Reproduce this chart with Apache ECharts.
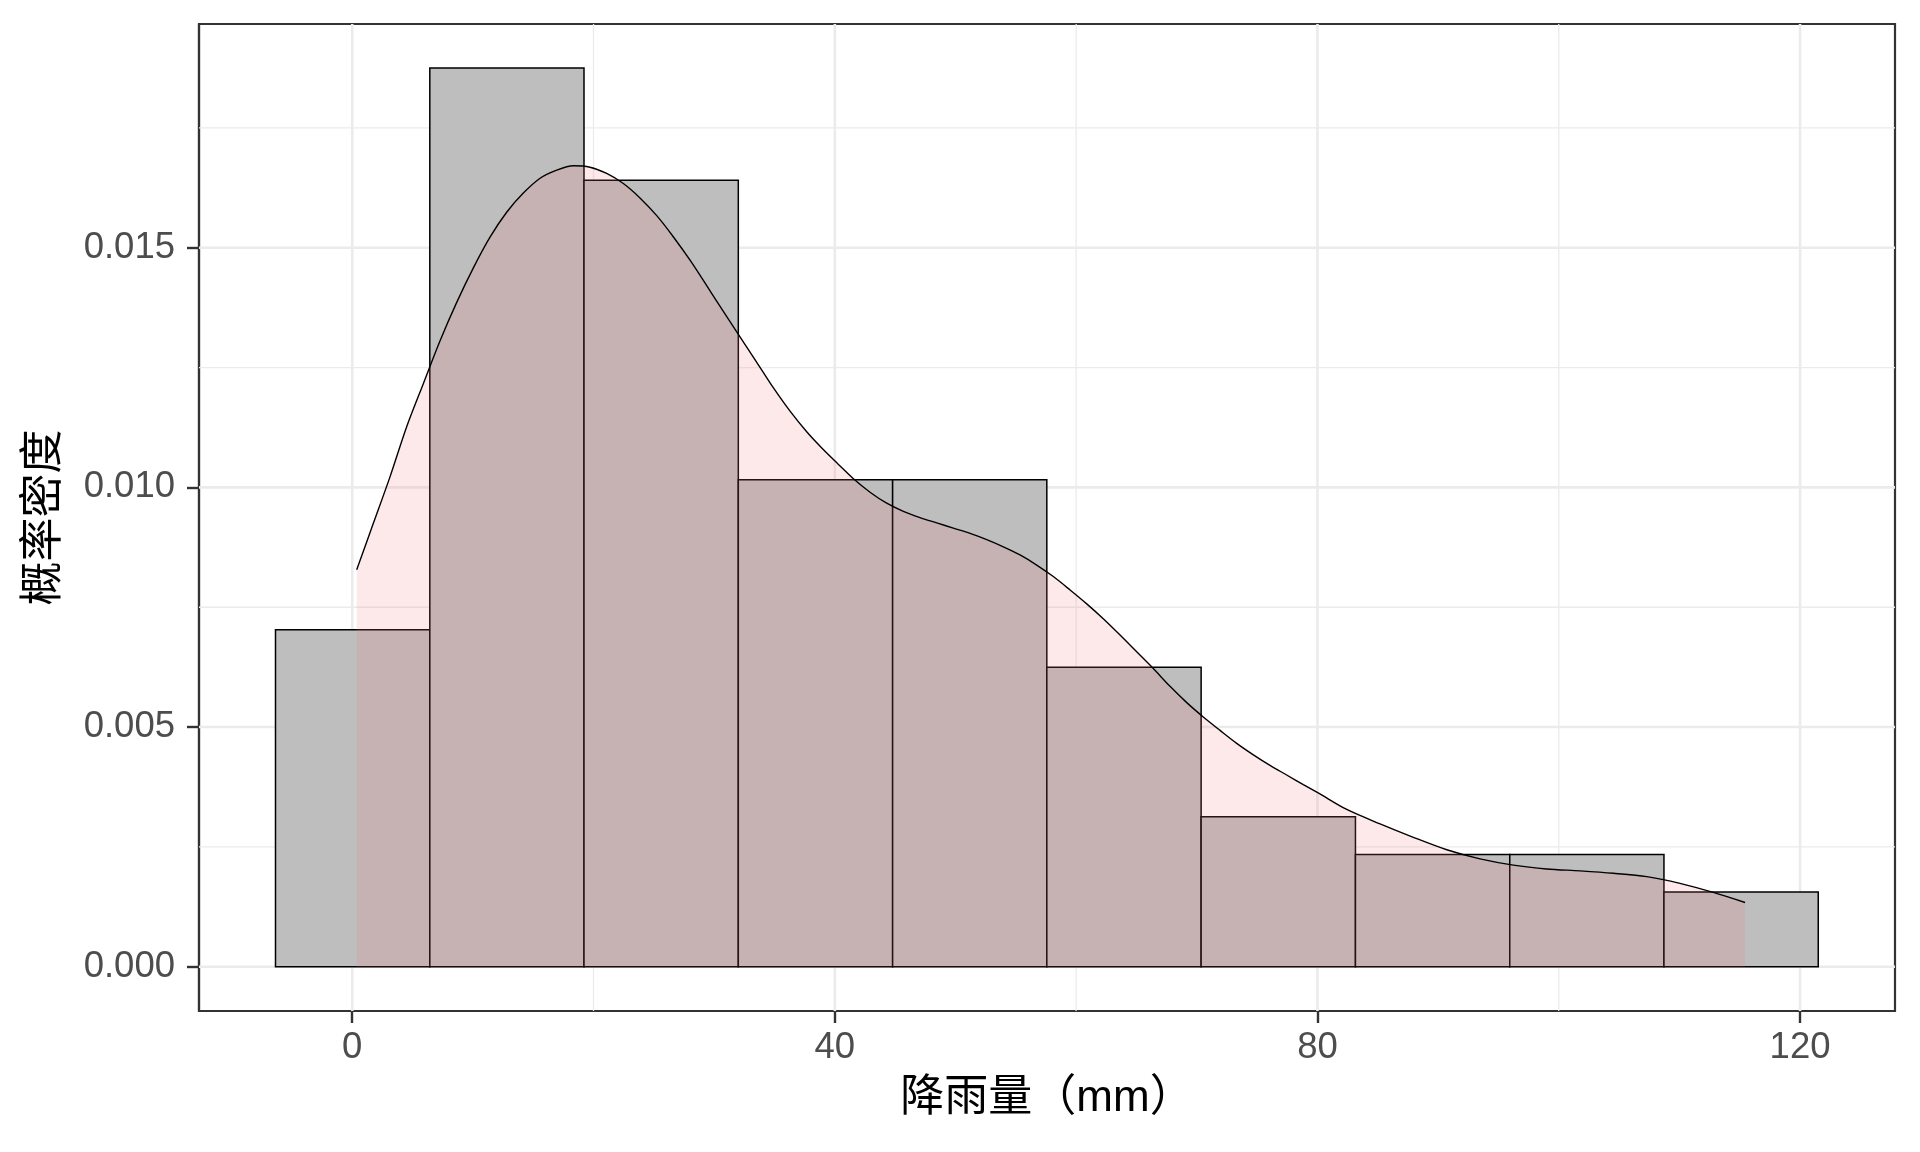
<!DOCTYPE html>
<html>
<head>
<meta charset="utf-8">
<script src="https://cdn.jsdelivr.net/npm/echarts@6/dist/echarts.min.js"></script>
<style>html,body{margin:0;padding:0;background:#fff}#c{width:1920px;height:1152px}</style>
</head>
<body>
<div id="c"></div>
<script>
// Histogram bins (rainfall, mm) and their densities
const binStart = [-6.36, 6.43, 19.21, 32.00, 44.79, 57.57, 70.36, 83.15, 95.94, 108.72];
const binEnd   = [6.43, 19.21, 32.00, 44.79, 57.57, 70.36, 83.15, 95.94, 108.72, 121.51];
const binDensity = [0.00703, 0.01875, 0.01641, 0.01016, 0.01016, 0.00625, 0.00313, 0.00234, 0.00234, 0.00156];

// Kernel density curve
const densX = [0.37, 1.75, 3.13, 4.52, 5.90, 7.28, 8.66, 10.04, 11.42, 12.80, 14.18, 15.57, 16.95, 18.33, 19.71,
  21.09, 22.47, 23.85, 25.24, 26.61, 28.00, 29.38, 30.76, 32.14, 33.53, 34.90, 36.29, 37.67, 39.00, 40.30,
  41.54, 42.92, 44.30, 45.68, 47.06, 48.45, 49.82, 51.21, 52.59, 53.97, 55.35, 56.73, 58.11, 59.50, 60.88,
  62.25, 63.64, 65.02, 66.40, 67.78, 69.17, 70.54, 71.93, 73.31, 74.69, 76.07, 77.45, 78.83, 80.10, 82.43,
  85.19, 87.95, 90.72, 93.48, 96.24, 99.00, 101.77, 104.53, 107.29, 110.05, 112.81, 115.44];
const densY = [0.00828, 0.00925, 0.01022, 0.01127, 0.01217, 0.01306, 0.01386, 0.01458, 0.01522, 0.01574, 0.01614, 0.01645, 0.01662, 0.01671, 0.01668,
  0.01655, 0.01634, 0.01604, 0.01567, 0.01523, 0.01474, 0.01421, 0.01367, 0.01314, 0.01261, 0.01208, 0.01159, 0.01116, 0.01080, 0.01048,
  0.01018, 0.00990, 0.00967, 0.00950, 0.00937, 0.00926, 0.00915, 0.00904, 0.00891, 0.00876, 0.00859, 0.00838, 0.00814, 0.00786, 0.00757,
  0.00726, 0.00692, 0.00657, 0.00622, 0.00585, 0.00551, 0.00521, 0.00493, 0.00466, 0.00442, 0.00420, 0.00400, 0.00380, 0.00362, 0.00328,
  0.00298, 0.00270, 0.00244, 0.00225, 0.00212, 0.00204, 0.00200, 0.00195, 0.00188, 0.00174, 0.00155, 0.00134];

// Axis ticks
const xTicks = [0, 40, 80, 120];
const xMinor = [20, 60, 100];
const yTicks = [0, 0.005, 0.010, 0.015];
const yMinor = [0.0025, 0.0075, 0.0125, 0.0175];
const xRange = [-12.70, 127.87];
const yRange = [-0.000924, 0.019668];

const xTitle = '降雨量（mm）';
const yTitle = '概率密度';

const gridItems = [];
xMinor.forEach(v => gridItems.push([0, v, 0]));
yMinor.forEach(v => gridItems.push([1, v, 0]));
xTicks.forEach(v => gridItems.push([0, v, 1]));
yTicks.forEach(v => gridItems.push([1, v, 1]));

const chart = echarts.init(document.getElementById('c'), null, {renderer: 'canvas'});
const labelFont = "'Liberation Sans', Arial, sans-serif";
const titleFont = "'Liberation Sans', 'Noto Sans CJK SC', sans-serif";
const axisDark = '#333333';

chart.setOption({
  animation: false,
  backgroundColor: '#ffffff',
  grid: {left: 199, right: 25, top: 24, bottom: 141, show: true, borderColor: axisDark, borderWidth: 2.2, backgroundColor: 'transparent', containLabel: false},
  xAxis: {
    type: 'value', min: xRange[0], max: xRange[1],
    axisLine: {show: true, onZero: false, lineStyle: {color: axisDark, width: 2.2}},
    splitLine: {show: false},
    axisTick: {show: true, inside: false, length: 12, lineStyle: {color: axisDark, width: 2.4}, customValues: xTicks},
    axisLabel: {customValues: xTicks, color: '#4D4D4D', fontSize: 36.5, fontFamily: labelFont, margin: 18, formatter: v => String(v)},
    name: xTitle, nameLocation: 'middle', nameGap: 66,
    nameTextStyle: {fontSize: 44, color: '#000000', fontFamily: titleFont}
  },
  yAxis: {
    type: 'value', min: yRange[0], max: yRange[1],
    axisLine: {show: true, onZero: false, lineStyle: {color: axisDark, width: 2.2}},
    splitLine: {show: false},
    axisTick: {show: true, inside: false, length: 12, lineStyle: {color: axisDark, width: 2.4}, customValues: yTicks},
    axisLabel: {customValues: yTicks, color: '#4D4D4D', fontSize: 36.5, fontFamily: labelFont, margin: 24, formatter: v => v.toFixed(3)},
    name: yTitle, nameLocation: 'middle', nameGap: 132, nameRotate: 90,
    nameTextStyle: {fontSize: 44, color: '#000000', fontFamily: titleFont}
  },
  series: [
    {
      type: 'custom', name: 'grid', z: 1, silent: true, clip: true,
      data: gridItems,
      encode: {x: 1, y: 1},
      renderItem: function (params, api) {
        const dir = api.value(0), v = api.value(1), major = api.value(2);
        let p1, p2;
        if (dir === 0) { p1 = api.coord([v, yRange[0]]); p2 = api.coord([v, yRange[1]]); }
        else { p1 = api.coord([xRange[0], v]); p2 = api.coord([xRange[1], v]); }
        return {type: 'line', shape: {x1: p1[0], y1: p1[1], x2: p2[0], y2: p2[1]},
          style: {stroke: '#EBEBEB', lineWidth: major ? 2.6 : 1.3}};
      }
    },
    {
      type: 'custom', name: 'hist', z: 2, silent: true,
      data: binStart.map((s, i) => [s, binEnd[i], binDensity[i]]),
      encode: {x: [0, 1], y: 2},
      renderItem: function (params, api) {
        const p0 = api.coord([api.value(0), 0]);
        const p1 = api.coord([api.value(1), api.value(2)]);
        return {type: 'rect', shape: {x: p0[0], y: p1[1], width: p1[0] - p0[0], height: p0[1] - p1[1]},
          style: {fill: '#BEBEBE', stroke: '#000000', lineWidth: 1.5}};
      }
    },
    {
      type: 'line', name: 'density', z: 3, silent: true,
      data: densX.map((x, i) => [x, densY[i]]),
      showSymbol: false, symbol: 'none', smooth: 0.3,
      lineStyle: {color: '#000000', width: 1.4},
      areaStyle: {color: 'rgba(245,112,125,0.23)'}
    }
  ]
});
</script>
</body>
</html>
